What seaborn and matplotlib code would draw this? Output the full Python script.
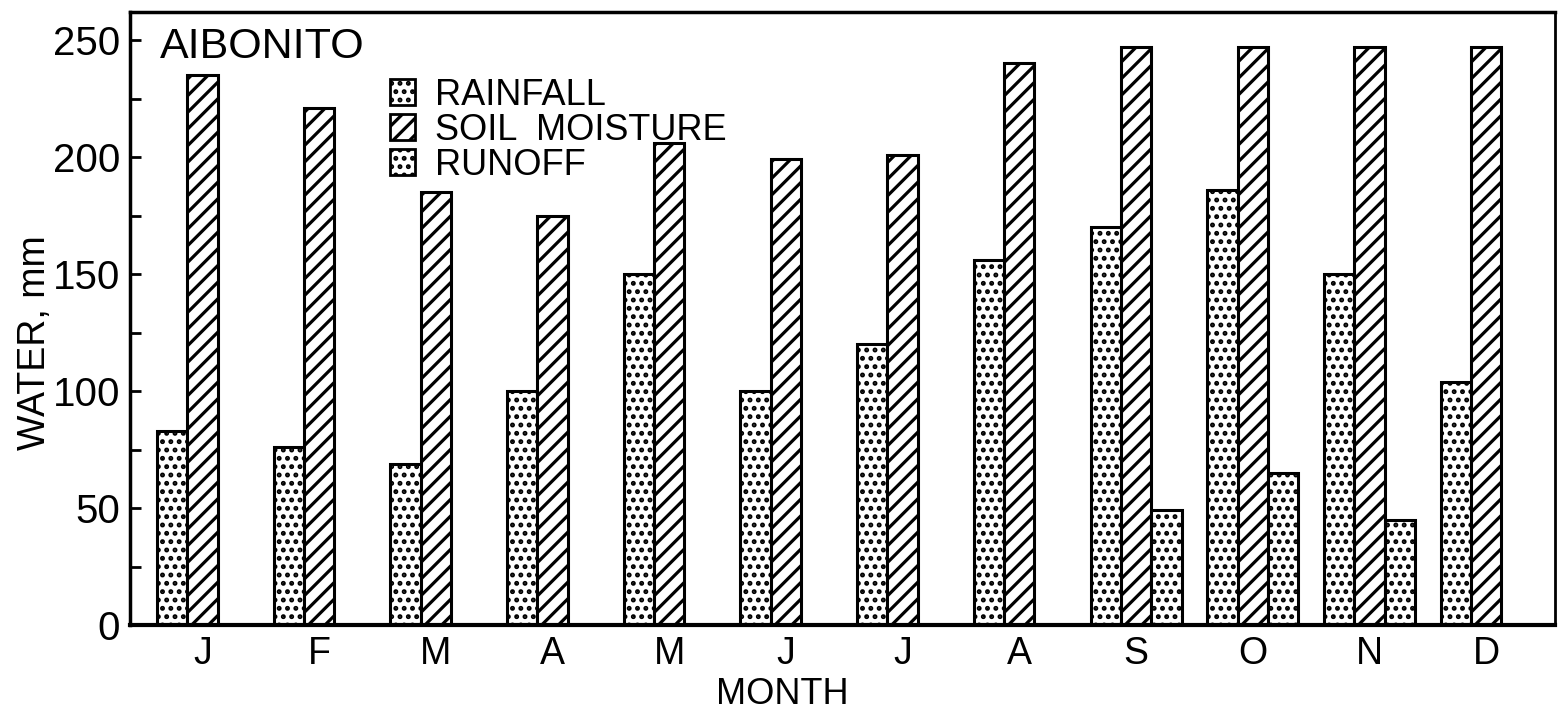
import numpy as np
import pandas as pd
import seaborn as sns
import matplotlib
matplotlib.use("Agg")
from matplotlib import pyplot as plt
from matplotlib.patches import Patch
from matplotlib.ticker import MultipleLocator

MONTHS = ['J', 'F', 'M', 'A', 'M', 'J', 'J', 'A', 'S', 'O', 'N', 'D']
RAINFALL = [83, 76, 69, 100, 150, 100, 120, 156, 170, 186, 150, 104]
SOIL_MOISTURE = [235, 221, 185, 175, 206, 199, 201, 240, 247, 247, 247, 247]
RUNOFF = [None, None, None, None, None, None, None, None, 49, 65, 45, None]
SERIES = ['RAINFALL', 'SOIL  MOISTURE', 'RUNOFF']
HATCHES = ['..', '//', '..']


def long_frame():
    rows = []
    for i, m in enumerate(MONTHS):
        for name, vals in zip(SERIES, [RAINFALL, SOIL_MOISTURE, RUNOFF]):
            if vals[i] is not None:
                rows.append({'idx': i, 'month': m, 'series': name, 'water': vals[i]})
    return pd.DataFrame(rows)


sns.set_theme(style='white')
plt.rcParams['font.family'] = ['Liberation Sans', 'DejaVu Sans']
plt.rcParams['text.color'] = 'black'
plt.rcParams['axes.labelcolor'] = 'black'
plt.rcParams['xtick.color'] = 'black'
plt.rcParams['ytick.color'] = 'black'
plt.rcParams['hatch.linewidth'] = 2.3
plt.rcParams['hatch.color'] = 'black'

df = long_frame()

fig = plt.figure(figsize=(15.58, 7.15), dpi=100)
ax = fig.add_axes([130 / 1558, 90 / 715, 1425 / 1558, 613 / 715])

sns.barplot(data=df, x='idx', y='water', hue='series', hue_order=SERIES,
            order=list(range(12)), palette=['white'] * 3, width=0.78,
            edgecolor='black', linewidth=2.2, saturation=1, errorbar=None,
            ax=ax, legend=False)

for container, hatch in zip(ax.containers, HATCHES):
    for bar in container:
        bar.set_hatch(hatch)
        bar.set_edgecolor('black')

ax.set_xlim(-0.62, 11.59)
ax.set_ylim(0, 262)
ax.set_xticks(range(12))
ax.set_xticklabels(MONTHS)
ax.yaxis.set_major_locator(MultipleLocator(50))
ax.yaxis.set_minor_locator(MultipleLocator(25))
ax.tick_params(axis='y', which='both', direction='in', length=8, width=2,
               labelsize=29, pad=7, left=True)
ax.tick_params(axis='x', length=0, labelsize=27, pad=8)

for side, lw in [('left', 2.5), ('bottom', 3), ('top', 2.5), ('right', 2)]:
    ax.spines[side].set_visible(True)
    ax.spines[side].set_color('black')
    ax.spines[side].set_linewidth(lw)

ax.set_xlabel('MONTH', fontsize=26)
ax.xaxis.set_label_coords(0.4575, -0.085)
ax.set_ylabel('WATER, mm', fontsize=27)
ax.yaxis.set_label_coords(-0.054, 0.46)

ax.text(0.021, 0.975, 'AIBONITO', transform=ax.transAxes, fontsize=31,
        va='top', ha='left')

handles = [Patch(facecolor='white', edgecolor='black', hatch=h, linewidth=2)
           for h in HATCHES]
ax.legend(handles, SERIES, loc='upper left', bbox_to_anchor=(0.1825, 0.893),
          frameon=False, fontsize=26, handlelength=0.7, handleheight=0.7,
          handletextpad=0.55, labelspacing=0.0, borderpad=0, borderaxespad=0)

fig.savefig('out.png', dpi=100)
